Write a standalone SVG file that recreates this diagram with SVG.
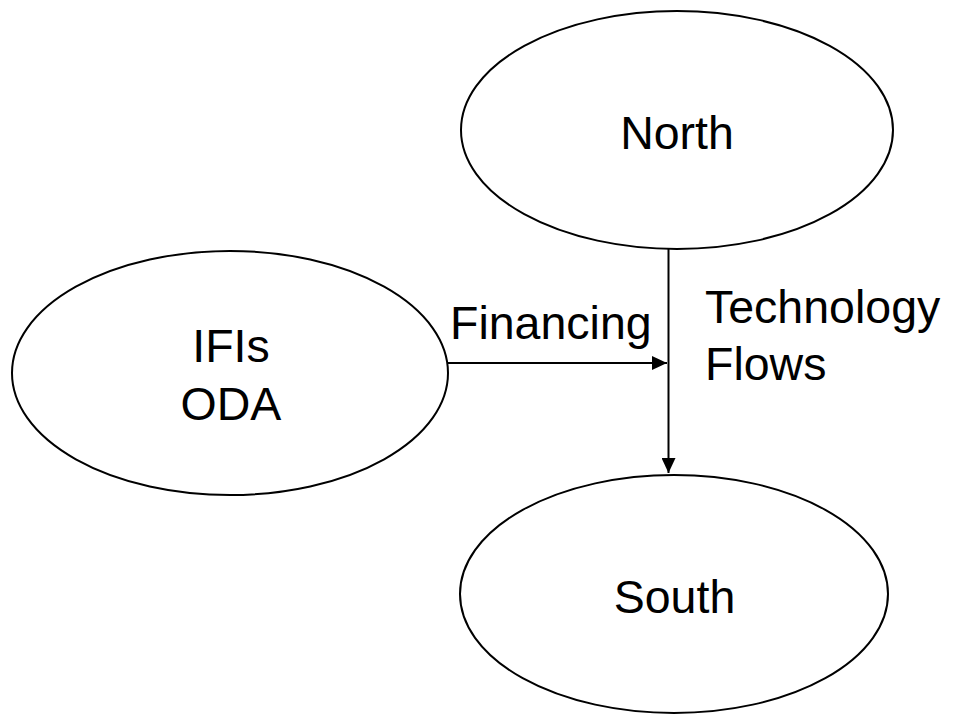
<svg xmlns="http://www.w3.org/2000/svg" width="958" height="714" viewBox="0 0 958 714">
<style>
.node{fill:#fff;stroke:#000;stroke-width:2}
.lbl{font-family:"Liberation Sans",Arial,sans-serif;font-size:46.5px;fill:#000}
.c{text-anchor:middle}
.edge{stroke:#000;stroke-width:2;fill:none}
</style>
<defs>
<marker id="arr" viewBox="0 0 15 14" refX="15" refY="7" markerWidth="15" markerHeight="14" markerUnits="userSpaceOnUse" orient="auto">
<path d="M0,0 L15,7 L0,14 Z" fill="#000"/>
</marker>
</defs>
<rect width="958" height="714" fill="#fff"/>
<g id="north">
<ellipse class="node" cx="677" cy="130" rx="216" ry="119"/>
<text class="lbl c" x="677" y="149">North</text>
</g>
<g id="ifis">
<ellipse class="node" cx="230" cy="373" rx="218" ry="122"/>
<text class="lbl c" x="231" y="362">IFIs</text>
<text class="lbl c" x="231" y="420">ODA</text>
</g>
<g id="south">
<ellipse class="node" cx="674" cy="594" rx="214" ry="119"/>
<text class="lbl c" x="674.5" y="613">South</text>
</g>
<g id="connectors">
<line class="edge" x1="668.5" y1="249" x2="668.5" y2="473" marker-end="url(#arr)"/>
<line class="edge" x1="448" y1="363" x2="667" y2="363" marker-end="url(#arr)"/>
<text class="lbl" x="450" y="339">Financing</text>
<text class="lbl" x="705" y="323">Technology</text>
<text class="lbl" x="705" y="380">Flows</text>
</g>
</svg>
